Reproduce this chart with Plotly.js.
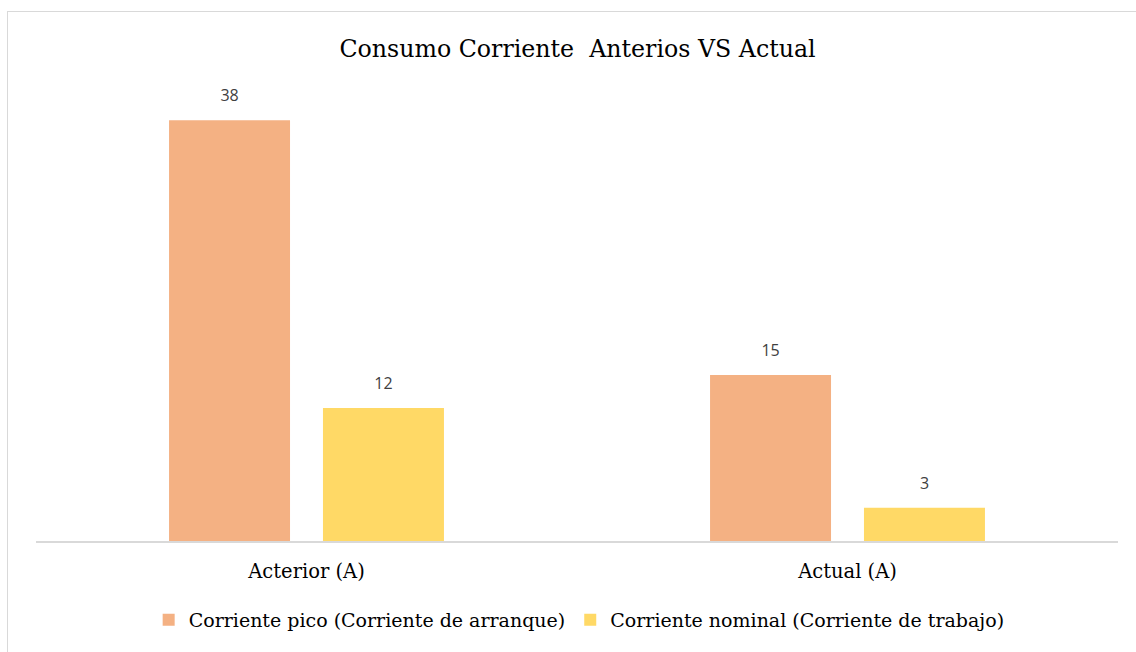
<!DOCTYPE html>
<html>
<head>
<meta charset="utf-8">
<script src="https://cdn.plot.ly/plotly-3.0.1.min.js"></script>
<style>
  html, body { margin: 0; padding: 0; background: #ffffff; overflow: hidden; }
  #wrap { position: relative; width: 1136px; height: 652px; }
  #frame { position: absolute; left: 7px; top: 11px; width: 1140px; height: 660px; border: 1px solid #d9d9d9; box-sizing: border-box; pointer-events: none; z-index: 2; }
  #chart { position: absolute; left: 0; top: 0; width: 1136px; height: 652px; }
</style>
</head>
<body>
<div id="wrap">
  <div id="chart"></div>
  <div id="frame"></div>
</div>
<script>
const categories = ["Acterior (A)", "Actual (A)"];
const seriesNames = ["Corriente pico (Corriente de arranque)", "Corriente nominal (Corriente de trabajo)"];
const picoValues = [38, 15];
const nominalValues = [12, 3];
const titleText = "Consumo Corriente&nbsp; Anterios VS Actual";

const serif = "DejaVu Serif, Liberation Serif, serif";
const labelFont = { family: "Open Sans, Liberation Sans, sans-serif", size: 10, color: "#404040" };

function barTrace(name, values, color) {
  return {
    type: "bar",
    name: name,
    x: categories,
    y: values,
    marker: { color: color },
    text: values.map(String),
    texttemplate: "<span style='font-size:16px'>%{text}</span><br> ",
    textposition: "outside",
    textfont: labelFont,
    cliponaxis: false,
    hoverinfo: "skip"
  };
}

const data = [
  barTrace(seriesNames[0], picoValues, "#F4B183"),
  barTrace(seriesNames[1], nominalValues, "#FFD966")
];

const layout = {
  width: 1136,
  height: 652,
  paper_bgcolor: "#ffffff",
  plot_bgcolor: "#ffffff",
  margin: { l: 36, r: 18, t: 98, b: 111 },
  title: {
    text: titleText,
    font: { family: serif, size: 23.7, color: "#000000" },
    x: 0.5084, xanchor: "center",
    y: 0.925, yanchor: "middle"
  },
  barmode: "group",
  bargap: 0.431,
  bargroupgap: 0.214,
  showlegend: true,
  legend: {
    orientation: "h",
    x: 0.502, xanchor: "center",
    y: -0.178, yanchor: "middle",
    font: { family: serif, size: 19, color: "#000000" },
    itemwidth: 30,
    traceorder: "normal"
  },
  xaxis: {
    type: "category",
    showline: true,
    linecolor: "#d9d9d9",
    linewidth: 1.5,
    ticks: "",
    showgrid: false,
    zeroline: false,
    tickfont: { family: serif, size: 19.5, color: "#000000" },
    ticklabelstandoff: 12
  },
  yaxis: {
    range: [0, 40],
    showgrid: false,
    zeroline: false,
    showline: false,
    showticklabels: false,
    ticks: ""
  }
};

Plotly.newPlot("chart", data, layout, { staticPlot: true, displayModeBar: false });
</script>
</body>
</html>
